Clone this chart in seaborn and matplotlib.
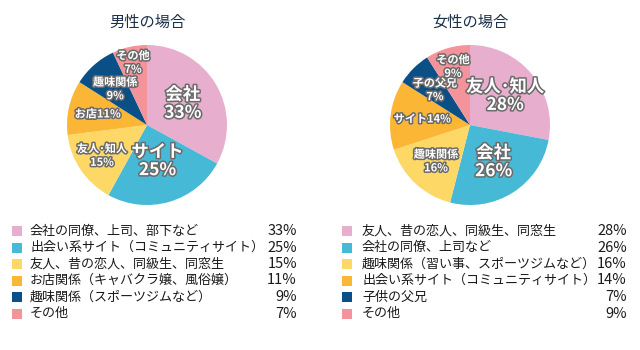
import matplotlib.pyplot as plt
import matplotlib.patheffects as pe
from matplotlib.patches import Rectangle
import numpy as np
import seaborn as sns

sns.set_theme(style="white")
plt.rcParams['font.family'] = ['Noto Sans CJK JP', 'DejaVu Sans']

# data
titles = ['男性の場合', '女性の場合']

male_short = ['会社', 'サイト', '友人･知人', 'お店', '趣味関係', 'その他']
male_values = [33, 25, 15, 11, 9, 7]
male_legend = ['会社の同僚、上司、部下など',
               '出会い系サイト（コミュニティサイト）',
               '友人、昔の恋人、同級生、同窓生',
               'お店関係（キャバクラ嬢、風俗嬢）',
               '趣味関係（スポーツジムなど）',
               'その他']

female_short = ['友人･知人', '会社', '趣味関係', 'サイト', '子の父兄', 'その他']
female_values = [28, 26, 16, 14, 7, 9]
female_legend = ['友人、昔の恋人、同級生、同窓生',
                 '会社の同僚、上司など',
                 '趣味関係（習い事、スポーツジムなど）',
                 '出会い系サイト（コミュニティサイト）',
                 '子供の父兄',
                 'その他']

colors = ['#E8AECD', '#45B9D6', '#FDD867', '#FBB635', '#0B4F87', '#F5939B']

# label layout inside the pies (style only)
male_r = [0.52, 0.47, 0.68, 0.63, 0.6, 0.8]
male_inline = [False, False, False, True, False, False]
female_r = [0.57, 0.55, 0.62, 0.6, 0.62, 0.76]
female_inline = [False, False, False, True, False, False]

W, H = 640, 350
fig = plt.figure(figsize=(6.4, 3.5), dpi=100)
fig.patch.set_facecolor('white')

shadow = [pe.withStroke(linewidth=2.2, foreground='#6a6a6a')]


def draw_pie(cx, cy, rad, title, short, values, radii, inline):
    ax = fig.add_axes([(cx - rad) / W, (H - cy - rad) / H, 2 * rad / W, 2 * rad / H])
    wedges, _ = ax.pie(values, colors=colors, startangle=90, counterclock=False,
                       wedgeprops=dict(linewidth=0))
    ax.set_xlim(-1, 1)
    ax.set_ylim(-1, 1)
    ax.set_aspect('equal')
    ax.axis('off')
    total = sum(values)
    cum = 0
    for i, (name, v) in enumerate(zip(short, values)):
        mid = (cum + v / 2) / total
        cum += v
        ang = np.deg2rad(90 - 360 * mid)
        x, y = radii[i] * np.cos(ang), radii[i] * np.sin(ang)
        big = i < 2
        if inline[i]:
            txt = f'{name}{v}%'
        else:
            txt = f'{name}\n{v}%'
        ax.text(x, y, txt, ha='center', va='center', color='white',
                fontsize=12.5 if big else 8, fontweight='bold',
                linespacing=1.0 if big else 1.05, path_effects=shadow)
    fig.text(cx / W, 1 - 22 / H, title, ha='center', va='center',
             fontsize=11, color='#1C3048')


def draw_legend(x_sq, x_txt, x_pct, labels, values):
    y0, dy = 231, 16.5
    for i, (lab, v) in enumerate(zip(labels, values)):
        y = y0 + i * dy
        fig.patches.append(Rectangle((x_sq / W, 1 - (y + 5) / H), 10 / W, 10 / H,
                                     transform=fig.transFigure, facecolor=colors[i],
                                     edgecolor='none'))
        fig.text(x_txt / W, 1 - y / H, lab, ha='left', va='center',
                 fontsize=9.4, color='#1a1a1a')
        fig.text(x_pct / W, 1 - y / H, f'{v}%', ha='right', va='center',
                 fontsize=10.5, color='#1a1a1a')


draw_pie(147, 125, 80, titles[0], male_short, male_values, male_r, male_inline)
draw_pie(470, 125, 80, titles[1], female_short, female_values, female_r, female_inline)
draw_legend(12, 30, 297, male_legend, male_values)
draw_legend(342, 362, 627, female_legend, female_values)

fig.savefig('out.png', dpi=100, facecolor='white')
